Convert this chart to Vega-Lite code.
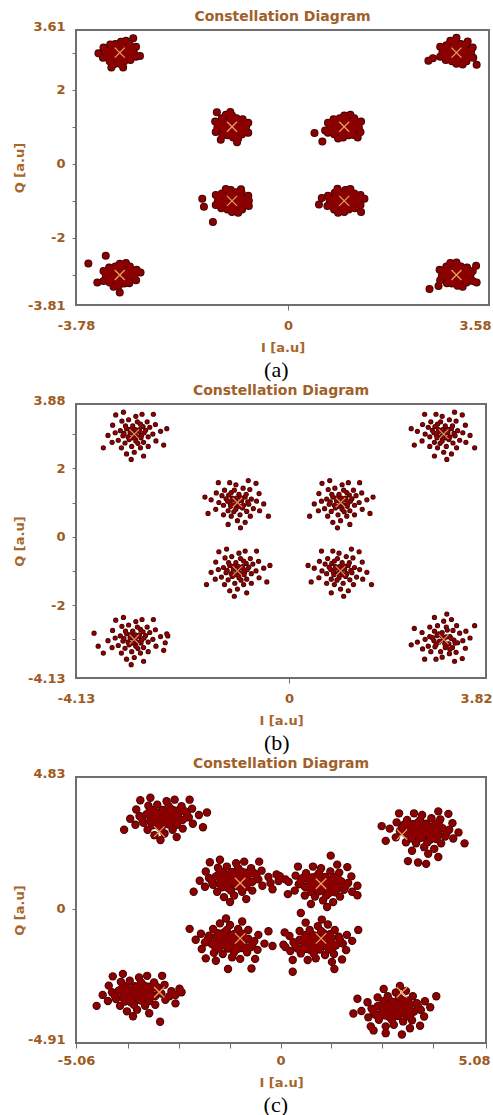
{
  "$schema": "https://vega.github.io/schema/vega-lite/v6.json",
  "background": "white",
  "padding": {"left": 12, "top": 9, "right": 0, "bottom": 0},
  "config": {
    "view": {"stroke": "#6e6e6e", "strokeWidth": 2},
    "font": "DejaVu Sans",
    "axis": {
      "labelFont": "DejaVu Sans", "labelFontWeight": "bold", "labelFontSize": 13, "labelColor": "#9E5A22",
      "titleFont": "DejaVu Sans", "titleFontWeight": "bold", "titleFontSize": 13, "titleColor": "#A8652C",
      "domain": false, "grid": false, "tickColor": "#6e6e6e", "tickSize": 4, "labelPadding": 7,
      "labelOverlap": false, "labelFlush": false
    },
    "axisX": {"tickSize": 5, "labelPadding": 9, "titlePadding": 9},
    "axisY": {"titlePadding": 1},
    "concat": {"spacing": 2}
  },
  "datasets": {
    "a": [
      {"i":-3,"q":3},{"i":-2.94,"q":3.05},{"i":-3.05,"q":3.08},{"i":-2.91,"q":2.94},{"i":-3.08,"q":2.95},{"i":-2.98,"q":2.89},{"i":-3.02,"q":3.14},{"i":-2.87,"q":3.02},{"i":-3.14,"q":3.01},{"i":-2.88,"q":3.13},{"i":-3.12,"q":3.14},{"i":-2.87,"q":2.86},{"i":-3.13,"q":2.86},{"i":-2.81,"q":2.95},{"i":-3.19,"q":3.05},{"i":-2.96,"q":3.2},{"i":-3.03,"q":2.8},{"i":-2.79,"q":3.11},{"i":-3.22,"q":2.9},{"i":-2.92,"q":2.77},{"i":-3.08,"q":3.23},{"i":-2.75,"q":3},{"i":-3.26,"q":3.02},{"i":-2.82,"q":3.2},{"i":-3.17,"q":3.22},{"i":-2.81,"q":2.8},{"i":-3.18,"q":2.77},{"i":-2.98,"q":3.29},{"i":-3,"q":2.7},{"i":-2.71,"q":2.89},{"i":-3.3,"q":2.86},{"i":-2.71,"q":3.16},{"i":-3.29,"q":3.14},{"i":-2.89,"q":3.32},{"i":-3.11,"q":2.68},{"i":-2.76,"q":3.39},{"i":-2.64,"q":2.91},{"i":-3.15,"q":2.6},{"i":-2.94,"q":2.6},{"i":-3.38,"q":2.98},
      {"i":3,"q":3},{"i":2.94,"q":3.05},{"i":3.05,"q":3.08},{"i":2.91,"q":2.94},{"i":3.08,"q":2.95},{"i":2.98,"q":2.89},{"i":3.02,"q":3.14},{"i":2.87,"q":3.02},{"i":3.14,"q":3.01},{"i":2.88,"q":3.13},{"i":3.12,"q":3.14},{"i":2.87,"q":2.86},{"i":3.13,"q":2.86},{"i":2.81,"q":2.95},{"i":3.19,"q":3.05},{"i":2.96,"q":3.2},{"i":3.03,"q":2.8},{"i":2.79,"q":3.11},{"i":3.22,"q":2.9},{"i":2.92,"q":2.77},{"i":3.08,"q":3.23},{"i":2.75,"q":3},{"i":3.26,"q":3.02},{"i":2.82,"q":3.2},{"i":3.17,"q":3.22},{"i":2.81,"q":2.8},{"i":3.18,"q":2.77},{"i":2.98,"q":3.29},{"i":3,"q":2.7},{"i":2.71,"q":2.89},{"i":3.3,"q":2.86},{"i":2.71,"q":3.16},{"i":3.29,"q":3.14},{"i":2.89,"q":3.32},{"i":3.11,"q":2.68},{"i":2.5,"q":2.78},{"i":2.58,"q":2.85},{"i":3.36,"q":2.67},{"i":3,"q":3.4},{"i":3.2,"q":3.3},
      {"i":-1,"q":1},{"i":-0.94,"q":0.95},{"i":-1.05,"q":0.92},{"i":-0.91,"q":1.06},{"i":-1.08,"q":1.05},{"i":-0.98,"q":1.11},{"i":-1.02,"q":0.86},{"i":-0.87,"q":0.98},{"i":-1.14,"q":0.99},{"i":-0.88,"q":0.87},{"i":-1.12,"q":0.86},{"i":-0.87,"q":1.14},{"i":-1.13,"q":1.14},{"i":-0.81,"q":1.05},{"i":-1.19,"q":0.95},{"i":-0.96,"q":0.8},{"i":-1.03,"q":1.2},{"i":-0.79,"q":0.89},{"i":-1.22,"q":1.1},{"i":-0.92,"q":1.23},{"i":-1.08,"q":0.77},{"i":-0.75,"q":1},{"i":-1.26,"q":0.98},{"i":-0.82,"q":0.8},{"i":-1.17,"q":0.78},{"i":-0.81,"q":1.2},{"i":-1.18,"q":1.23},{"i":-0.98,"q":0.71},{"i":-1,"q":1.3},{"i":-0.71,"q":1.11},{"i":-1.3,"q":1.14},{"i":-0.71,"q":0.84},{"i":-1.29,"q":0.86},{"i":-0.89,"q":0.68},{"i":-1.11,"q":1.32},{"i":-1.27,"q":1.39},{"i":-1.03,"q":1.4},{"i":-0.73,"q":0.85},{"i":-0.91,"q":0.58},{"i":-1.2,"q":0.65},
      {"i":1,"q":1},{"i":0.94,"q":0.95},{"i":1.05,"q":0.92},{"i":0.91,"q":1.06},{"i":1.08,"q":1.05},{"i":0.98,"q":1.11},{"i":1.02,"q":0.86},{"i":0.87,"q":0.98},{"i":1.14,"q":0.99},{"i":0.88,"q":0.87},{"i":1.12,"q":0.86},{"i":0.87,"q":1.14},{"i":1.13,"q":1.14},{"i":0.81,"q":1.05},{"i":1.19,"q":0.95},{"i":0.96,"q":0.8},{"i":1.03,"q":1.2},{"i":0.79,"q":0.89},{"i":1.22,"q":1.1},{"i":0.92,"q":1.23},{"i":1.08,"q":0.77},{"i":0.75,"q":1},{"i":1.26,"q":0.98},{"i":0.82,"q":0.8},{"i":1.17,"q":0.78},{"i":0.81,"q":1.2},{"i":1.18,"q":1.23},{"i":0.98,"q":0.71},{"i":1,"q":1.3},{"i":0.71,"q":1.11},{"i":1.3,"q":1.14},{"i":0.71,"q":0.84},{"i":1.29,"q":0.86},{"i":0.89,"q":0.68},{"i":1.11,"q":1.32},{"i":0.47,"q":0.83},{"i":0.61,"q":0.6},{"i":1.24,"q":1.12},{"i":1.24,"q":0.71},{"i":0.66,"q":0.9},
      {"i":-1,"q":-1},{"i":-1.06,"q":-0.95},{"i":-0.95,"q":-0.92},{"i":-1.09,"q":-1.06},{"i":-0.92,"q":-1.05},{"i":-1.02,"q":-1.11},{"i":-0.98,"q":-0.86},{"i":-1.13,"q":-0.98},{"i":-0.86,"q":-0.99},{"i":-1.12,"q":-0.87},{"i":-0.88,"q":-0.86},{"i":-1.13,"q":-1.14},{"i":-0.87,"q":-1.14},{"i":-1.19,"q":-1.05},{"i":-0.81,"q":-0.95},{"i":-1.04,"q":-0.8},{"i":-0.97,"q":-1.2},{"i":-1.21,"q":-0.89},{"i":-0.78,"q":-1.1},{"i":-1.08,"q":-1.23},{"i":-0.92,"q":-0.77},{"i":-1.25,"q":-1},{"i":-0.74,"q":-0.98},{"i":-1.18,"q":-0.8},{"i":-0.83,"q":-0.78},{"i":-1.19,"q":-1.2},{"i":-0.82,"q":-1.23},{"i":-1.02,"q":-0.71},{"i":-1,"q":-1.3},{"i":-1.29,"q":-1.11},{"i":-0.7,"q":-1.14},{"i":-1.29,"q":-0.84},{"i":-0.71,"q":-0.86},{"i":-1.11,"q":-0.68},{"i":-0.89,"q":-1.32},{"i":-1.53,"q":-0.94},{"i":-1.5,"q":-1.16},{"i":-1.34,"q":-1.57},{"i":-0.84,"q":-0.69},{"i":-0.7,"q":-1.0},
      {"i":1,"q":-1},{"i":1.06,"q":-0.95},{"i":0.95,"q":-0.92},{"i":1.09,"q":-1.06},{"i":0.92,"q":-1.05},{"i":1.02,"q":-1.11},{"i":0.98,"q":-0.86},{"i":1.13,"q":-0.98},{"i":0.86,"q":-0.99},{"i":1.12,"q":-0.87},{"i":0.88,"q":-0.86},{"i":1.13,"q":-1.14},{"i":0.87,"q":-1.14},{"i":1.19,"q":-1.05},{"i":0.81,"q":-0.95},{"i":1.04,"q":-0.8},{"i":0.97,"q":-1.2},{"i":1.21,"q":-0.89},{"i":0.78,"q":-1.1},{"i":1.08,"q":-1.23},{"i":0.92,"q":-0.77},{"i":1.25,"q":-1},{"i":0.74,"q":-0.98},{"i":1.18,"q":-0.8},{"i":0.83,"q":-0.78},{"i":1.19,"q":-1.2},{"i":0.82,"q":-1.23},{"i":1.02,"q":-0.71},{"i":1,"q":-1.3},{"i":1.29,"q":-1.11},{"i":0.7,"q":-1.14},{"i":1.29,"q":-0.84},{"i":0.71,"q":-0.86},{"i":1.11,"q":-0.68},{"i":0.89,"q":-1.32},{"i":0.88,"q":-0.67},{"i":1.36,"q":-0.94},{"i":1.3,"q":-1.3},{"i":0.55,"q":-1.1},{"i":0.6,"q":-0.92},
      {"i":-3,"q":-3},{"i":-3.06,"q":-3.05},{"i":-2.95,"q":-3.08},{"i":-3.09,"q":-2.94},{"i":-2.92,"q":-2.95},{"i":-3.02,"q":-2.89},{"i":-2.98,"q":-3.14},{"i":-3.13,"q":-3.02},{"i":-2.86,"q":-3.01},{"i":-3.12,"q":-3.13},{"i":-2.88,"q":-3.14},{"i":-3.13,"q":-2.86},{"i":-2.87,"q":-2.86},{"i":-3.19,"q":-2.95},{"i":-2.81,"q":-3.05},{"i":-3.04,"q":-3.2},{"i":-2.97,"q":-2.8},{"i":-3.21,"q":-3.11},{"i":-2.78,"q":-2.9},{"i":-3.08,"q":-2.77},{"i":-2.92,"q":-3.23},{"i":-3.25,"q":-3},{"i":-2.74,"q":-3.02},{"i":-3.18,"q":-3.2},{"i":-2.83,"q":-3.22},{"i":-3.19,"q":-2.8},{"i":-2.82,"q":-2.77},{"i":-3.02,"q":-3.29},{"i":-3,"q":-2.7},{"i":-3.29,"q":-2.89},{"i":-2.7,"q":-2.86},{"i":-3.29,"q":-3.16},{"i":-2.71,"q":-3.14},{"i":-3.11,"q":-3.32},{"i":-2.89,"q":-2.68},{"i":-3.56,"q":-2.69},{"i":-3.25,"q":-2.48},{"i":-2.63,"q":-2.93},{"i":-3.0,"q":-3.47},{"i":-3.4,"q":-3.2},
      {"i":3,"q":-3},{"i":3.06,"q":-3.05},{"i":2.95,"q":-3.08},{"i":3.09,"q":-2.94},{"i":2.92,"q":-2.95},{"i":3.02,"q":-2.89},{"i":2.98,"q":-3.14},{"i":3.13,"q":-3.02},{"i":2.86,"q":-3.01},{"i":3.12,"q":-3.13},{"i":2.88,"q":-3.14},{"i":3.13,"q":-2.86},{"i":2.87,"q":-2.86},{"i":3.19,"q":-2.95},{"i":2.81,"q":-3.05},{"i":3.04,"q":-3.2},{"i":2.97,"q":-2.8},{"i":3.21,"q":-3.11},{"i":2.78,"q":-2.9},{"i":3.08,"q":-2.77},{"i":2.92,"q":-3.23},{"i":3.25,"q":-3},{"i":2.74,"q":-3.02},{"i":3.18,"q":-3.2},{"i":2.83,"q":-3.22},{"i":3.19,"q":-2.8},{"i":2.82,"q":-2.77},{"i":3.02,"q":-3.29},{"i":3,"q":-2.7},{"i":3.29,"q":-2.89},{"i":2.7,"q":-2.86},{"i":3.29,"q":-3.16},{"i":2.71,"q":-3.14},{"i":3.11,"q":-3.32},{"i":2.89,"q":-2.68},{"i":2.52,"q":-3.38},{"i":3.36,"q":-3.2},{"i":3.0,"q":-2.66},{"i":3.35,"q":-2.75},{"i":2.68,"q":-3.3}
    ],
    "b": [
      {"i":-3,"q":3},{"i":-2.91,"q":3.08},{"i":-3.07,"q":3.14},{"i":-2.87,"q":2.89},{"i":-3.12,"q":2.92},{"i":-2.97,"q":2.8},{"i":-3.03,"q":3.24},{"i":-2.81,"q":3.04},{"i":-3.2,"q":3.02},{"i":-2.83,"q":3.22},{"i":-3.17,"q":3.24},{"i":-2.82,"q":2.76},{"i":-3.18,"q":2.74},{"i":-2.73,"q":2.92},{"i":-3.27,"q":3.1},{"i":-2.94,"q":3.36},{"i":-3.05,"q":2.64},{"i":-2.7,"q":3.2},{"i":-3.31,"q":2.82},{"i":-2.88,"q":2.6},{"i":-3.11,"q":3.42},{"i":-2.64,"q":3},{"i":-3.37,"q":3.04},{"i":-2.75,"q":3.36},{"i":-3.24,"q":3.38},{"i":-2.73,"q":2.64},{"i":-3.25,"q":2.6},{"i":-2.97,"q":3.52},{"i":-3,"q":2.47},{"i":-2.58,"q":2.8},{"i":-3.43,"q":2.76},{"i":-2.59,"q":3.28},{"i":-3.42,"q":3.26},{"i":-2.85,"q":3.58},{"i":-3.15,"q":2.42},{"i":-2.49,"q":3.08},{"i":-3.51,"q":2.96},{"i":-2.82,"q":2.36},{"i":-3.21,"q":3.64},{"i":-2.43,"q":2.68},{"i":-3.36,"q":3.56},{"i":-2.63,"q":3.58},{"i":-3.06,"q":2.26},{"i":-2.37,"q":3.16},{"i":-3.6,"q":2.6},{"i":-2.95,"q":2.93},{"i":-3.08,"q":3.05},{"i":-2.9,"q":3.13},{"i":-3.1,"q":2.84},{"i":-2.86,"q":2.97},{"i":-3.15,"q":3.16},{"i":-2.98,"q":3.13},{"i":-2.93,"q":2.73},{"i":-3.22,"q":2.95},{"i":-2.78,"q":3.11},{"i":-3.04,"q":2.89},{"i":-2.88,"q":3.29},
      {"i":3,"q":3},{"i":2.91,"q":3.08},{"i":3.07,"q":3.14},{"i":2.87,"q":2.89},{"i":3.12,"q":2.92},{"i":2.97,"q":2.8},{"i":3.03,"q":3.24},{"i":2.81,"q":3.04},{"i":3.2,"q":3.02},{"i":2.83,"q":3.22},{"i":3.17,"q":3.24},{"i":2.82,"q":2.76},{"i":3.18,"q":2.74},{"i":2.73,"q":2.92},{"i":3.27,"q":3.1},{"i":2.94,"q":3.36},{"i":3.05,"q":2.64},{"i":2.7,"q":3.2},{"i":3.31,"q":2.82},{"i":2.88,"q":2.6},{"i":3.11,"q":3.42},{"i":2.64,"q":3},{"i":3.37,"q":3.04},{"i":2.75,"q":3.36},{"i":3.24,"q":3.38},{"i":2.73,"q":2.64},{"i":3.25,"q":2.6},{"i":2.97,"q":3.52},{"i":3,"q":2.47},{"i":2.58,"q":2.8},{"i":3.43,"q":2.76},{"i":2.59,"q":3.28},{"i":3.42,"q":3.26},{"i":2.85,"q":3.58},{"i":3.15,"q":2.42},{"i":2.49,"q":3.08},{"i":3.51,"q":2.96},{"i":2.82,"q":2.36},{"i":3.21,"q":3.64},{"i":2.43,"q":2.68},{"i":3.36,"q":3.56},{"i":2.63,"q":3.58},{"i":3.06,"q":2.26},{"i":2.37,"q":3.16},{"i":3.6,"q":2.6},{"i":2.95,"q":2.93},{"i":3.08,"q":3.05},{"i":2.9,"q":3.13},{"i":3.1,"q":2.84},{"i":2.86,"q":2.97},{"i":3.15,"q":3.16},{"i":2.98,"q":3.13},{"i":2.93,"q":2.73},{"i":3.22,"q":2.95},{"i":2.78,"q":3.11},{"i":3.04,"q":2.89},{"i":2.88,"q":3.29},
      {"i":-1,"q":1},{"i":-1.09,"q":1.08},{"i":-0.93,"q":1.14},{"i":-1.13,"q":0.89},{"i":-0.88,"q":0.92},{"i":-1.03,"q":0.8},{"i":-0.97,"q":1.24},{"i":-1.19,"q":1.04},{"i":-0.8,"q":1.02},{"i":-1.17,"q":1.22},{"i":-0.83,"q":1.24},{"i":-1.18,"q":0.76},{"i":-0.82,"q":0.74},{"i":-1.27,"q":0.92},{"i":-0.73,"q":1.1},{"i":-1.06,"q":1.36},{"i":-0.95,"q":0.64},{"i":-1.3,"q":1.2},{"i":-0.69,"q":0.82},{"i":-1.12,"q":0.6},{"i":-0.89,"q":1.42},{"i":-1.36,"q":1},{"i":-0.63,"q":1.04},{"i":-1.25,"q":1.36},{"i":-0.76,"q":1.38},{"i":-1.27,"q":0.64},{"i":-0.75,"q":0.6},{"i":-1.03,"q":1.52},{"i":-1,"q":0.47},{"i":-1.42,"q":0.8},{"i":-0.57,"q":0.76},{"i":-1.41,"q":1.28},{"i":-0.58,"q":1.26},{"i":-1.15,"q":1.58},{"i":-0.85,"q":0.42},{"i":-1.51,"q":1.08},{"i":-0.49,"q":0.96},{"i":-1.18,"q":0.36},{"i":-0.79,"q":1.64},{"i":-1.57,"q":0.68},{"i":-0.64,"q":1.56},{"i":-1.37,"q":1.58},{"i":-0.94,"q":0.26},{"i":-1.63,"q":1.16},{"i":-0.4,"q":0.6},{"i":-1.05,"q":0.93},{"i":-0.92,"q":1.05},{"i":-1.1,"q":1.13},{"i":-0.9,"q":0.84},{"i":-1.14,"q":0.97},{"i":-0.85,"q":1.16},{"i":-1.02,"q":1.13},{"i":-1.07,"q":0.73},{"i":-0.78,"q":0.95},{"i":-1.22,"q":1.11},{"i":-0.96,"q":0.89},{"i":-1.12,"q":1.29},
      {"i":1,"q":1},{"i":1.09,"q":1.08},{"i":0.93,"q":1.14},{"i":1.13,"q":0.89},{"i":0.88,"q":0.92},{"i":1.03,"q":0.8},{"i":0.97,"q":1.24},{"i":1.19,"q":1.04},{"i":0.8,"q":1.02},{"i":1.17,"q":1.22},{"i":0.83,"q":1.24},{"i":1.18,"q":0.76},{"i":0.82,"q":0.74},{"i":1.27,"q":0.92},{"i":0.73,"q":1.1},{"i":1.06,"q":1.36},{"i":0.95,"q":0.64},{"i":1.3,"q":1.2},{"i":0.69,"q":0.82},{"i":1.12,"q":0.6},{"i":0.89,"q":1.42},{"i":1.36,"q":1},{"i":0.63,"q":1.04},{"i":1.25,"q":1.36},{"i":0.76,"q":1.38},{"i":1.27,"q":0.64},{"i":0.75,"q":0.6},{"i":1.03,"q":1.52},{"i":1,"q":0.47},{"i":1.42,"q":0.8},{"i":0.57,"q":0.76},{"i":1.41,"q":1.28},{"i":0.58,"q":1.26},{"i":1.15,"q":1.58},{"i":0.85,"q":0.42},{"i":1.51,"q":1.08},{"i":0.49,"q":0.96},{"i":1.18,"q":0.36},{"i":0.79,"q":1.64},{"i":1.57,"q":0.68},{"i":0.64,"q":1.56},{"i":1.37,"q":1.58},{"i":0.94,"q":0.26},{"i":1.63,"q":1.16},{"i":0.4,"q":0.6},{"i":1.05,"q":0.93},{"i":0.92,"q":1.05},{"i":1.1,"q":1.13},{"i":0.9,"q":0.84},{"i":1.14,"q":0.97},{"i":0.85,"q":1.16},{"i":1.02,"q":1.13},{"i":1.07,"q":0.73},{"i":0.78,"q":0.95},{"i":1.22,"q":1.11},{"i":0.96,"q":0.89},{"i":1.12,"q":1.29},
      {"i":-1,"q":-1},{"i":-0.91,"q":-0.92},{"i":-1.07,"q":-0.86},{"i":-0.87,"q":-1.11},{"i":-1.12,"q":-1.08},{"i":-0.97,"q":-1.2},{"i":-1.03,"q":-0.76},{"i":-0.81,"q":-0.96},{"i":-1.2,"q":-0.98},{"i":-0.83,"q":-0.78},{"i":-1.17,"q":-0.76},{"i":-0.82,"q":-1.24},{"i":-1.18,"q":-1.26},{"i":-0.73,"q":-1.08},{"i":-1.27,"q":-0.9},{"i":-0.94,"q":-0.64},{"i":-1.05,"q":-1.36},{"i":-0.7,"q":-0.8},{"i":-1.31,"q":-1.18},{"i":-0.88,"q":-1.4},{"i":-1.11,"q":-0.58},{"i":-0.64,"q":-1},{"i":-1.37,"q":-0.96},{"i":-0.75,"q":-0.64},{"i":-1.24,"q":-0.62},{"i":-0.73,"q":-1.36},{"i":-1.25,"q":-1.4},{"i":-0.97,"q":-0.48},{"i":-1,"q":-1.53},{"i":-0.58,"q":-1.2},{"i":-1.43,"q":-1.24},{"i":-0.59,"q":-0.72},{"i":-1.42,"q":-0.74},{"i":-0.85,"q":-0.42},{"i":-1.15,"q":-1.58},{"i":-0.49,"q":-0.92},{"i":-1.51,"q":-1.04},{"i":-0.82,"q":-1.64},{"i":-1.21,"q":-0.36},{"i":-0.43,"q":-1.32},{"i":-1.36,"q":-0.44},{"i":-0.63,"q":-0.42},{"i":-1.06,"q":-1.74},{"i":-0.37,"q":-0.84},{"i":-1.6,"q":-1.4},{"i":-0.95,"q":-1.07},{"i":-1.08,"q":-0.95},{"i":-0.9,"q":-0.87},{"i":-1.1,"q":-1.16},{"i":-0.86,"q":-1.03},{"i":-1.15,"q":-0.84},{"i":-0.98,"q":-0.87},{"i":-0.93,"q":-1.27},{"i":-1.22,"q":-1.05},{"i":-0.78,"q":-0.89},{"i":-1.04,"q":-1.11},{"i":-0.88,"q":-0.71},
      {"i":1,"q":-1},{"i":0.91,"q":-0.92},{"i":1.07,"q":-0.86},{"i":0.87,"q":-1.11},{"i":1.12,"q":-1.08},{"i":0.97,"q":-1.2},{"i":1.03,"q":-0.76},{"i":0.81,"q":-0.96},{"i":1.2,"q":-0.98},{"i":0.83,"q":-0.78},{"i":1.17,"q":-0.76},{"i":0.82,"q":-1.24},{"i":1.18,"q":-1.26},{"i":0.73,"q":-1.08},{"i":1.27,"q":-0.9},{"i":0.94,"q":-0.64},{"i":1.05,"q":-1.36},{"i":0.7,"q":-0.8},{"i":1.31,"q":-1.18},{"i":0.88,"q":-1.4},{"i":1.11,"q":-0.58},{"i":0.64,"q":-1},{"i":1.37,"q":-0.96},{"i":0.75,"q":-0.64},{"i":1.24,"q":-0.62},{"i":0.73,"q":-1.36},{"i":1.25,"q":-1.4},{"i":0.97,"q":-0.48},{"i":1,"q":-1.53},{"i":0.58,"q":-1.2},{"i":1.43,"q":-1.24},{"i":0.59,"q":-0.72},{"i":1.42,"q":-0.74},{"i":0.85,"q":-0.42},{"i":1.15,"q":-1.58},{"i":0.49,"q":-0.92},{"i":1.51,"q":-1.04},{"i":0.82,"q":-1.64},{"i":1.21,"q":-0.36},{"i":0.43,"q":-1.32},{"i":1.36,"q":-0.44},{"i":0.63,"q":-0.42},{"i":1.06,"q":-1.74},{"i":0.37,"q":-0.84},{"i":1.6,"q":-1.4},{"i":0.95,"q":-1.07},{"i":1.08,"q":-0.95},{"i":0.9,"q":-0.87},{"i":1.1,"q":-1.16},{"i":0.86,"q":-1.03},{"i":1.15,"q":-0.84},{"i":0.98,"q":-0.87},{"i":0.93,"q":-1.27},{"i":1.22,"q":-1.05},{"i":0.78,"q":-0.89},{"i":1.04,"q":-1.11},{"i":0.88,"q":-0.71},
      {"i":-3,"q":-3},{"i":-2.91,"q":-2.92},{"i":-3.07,"q":-2.86},{"i":-2.87,"q":-3.11},{"i":-3.12,"q":-3.08},{"i":-2.97,"q":-3.2},{"i":-3.03,"q":-2.76},{"i":-2.81,"q":-2.96},{"i":-3.2,"q":-2.98},{"i":-2.83,"q":-2.78},{"i":-3.17,"q":-2.76},{"i":-2.82,"q":-3.24},{"i":-3.18,"q":-3.26},{"i":-2.73,"q":-3.08},{"i":-3.27,"q":-2.9},{"i":-2.94,"q":-2.64},{"i":-3.05,"q":-3.36},{"i":-2.7,"q":-2.8},{"i":-3.31,"q":-3.18},{"i":-2.88,"q":-3.4},{"i":-3.11,"q":-2.58},{"i":-2.64,"q":-3},{"i":-3.37,"q":-2.96},{"i":-2.75,"q":-2.64},{"i":-3.24,"q":-2.62},{"i":-2.73,"q":-3.36},{"i":-3.25,"q":-3.4},{"i":-2.97,"q":-2.48},{"i":-3,"q":-3.53},{"i":-2.58,"q":-3.2},{"i":-3.43,"q":-3.24},{"i":-2.59,"q":-2.72},{"i":-3.42,"q":-2.74},{"i":-2.85,"q":-2.42},{"i":-3.15,"q":-3.58},{"i":-2.49,"q":-2.92},{"i":-3.51,"q":-3.04},{"i":-2.82,"q":-3.64},{"i":-3.21,"q":-2.36},{"i":-2.43,"q":-3.32},{"i":-3.36,"q":-2.44},{"i":-2.63,"q":-2.42},{"i":-3.06,"q":-3.74},{"i":-2.37,"q":-2.84},{"i":-3.6,"q":-3.4},{"i":-2.95,"q":-3.07},{"i":-3.08,"q":-2.95},{"i":-2.9,"q":-2.87},{"i":-3.1,"q":-3.16},{"i":-2.86,"q":-3.03},{"i":-3.15,"q":-2.84},{"i":-2.98,"q":-2.87},{"i":-2.93,"q":-3.27},{"i":-3.22,"q":-3.05},{"i":-2.78,"q":-2.89},{"i":-3.04,"q":-3.11},{"i":-2.88,"q":-2.71},{"i":-3.78,"q":-2.82},{"i":-3.7,"q":-3.2},{"i":-2.35,"q":-2.9},{"i":-2.4,"q":-3.1},
      {"i":3,"q":-3},{"i":2.91,"q":-3.08},{"i":3.07,"q":-3.14},{"i":2.87,"q":-2.89},{"i":3.12,"q":-2.92},{"i":2.97,"q":-2.8},{"i":3.03,"q":-3.24},{"i":2.81,"q":-3.04},{"i":3.2,"q":-3.02},{"i":2.83,"q":-3.22},{"i":3.17,"q":-3.24},{"i":2.82,"q":-2.76},{"i":3.18,"q":-2.74},{"i":2.73,"q":-2.92},{"i":3.27,"q":-3.1},{"i":2.94,"q":-3.36},{"i":3.05,"q":-2.64},{"i":2.7,"q":-3.2},{"i":3.31,"q":-2.82},{"i":2.88,"q":-2.6},{"i":3.11,"q":-3.42},{"i":2.64,"q":-3},{"i":3.37,"q":-3.04},{"i":2.75,"q":-3.36},{"i":3.24,"q":-3.38},{"i":2.73,"q":-2.64},{"i":3.25,"q":-2.6},{"i":2.97,"q":-3.52},{"i":3,"q":-2.47},{"i":2.58,"q":-2.8},{"i":3.43,"q":-2.76},{"i":2.59,"q":-3.28},{"i":3.42,"q":-3.26},{"i":2.85,"q":-3.58},{"i":3.15,"q":-2.42},{"i":2.49,"q":-3.08},{"i":3.51,"q":-2.96},{"i":2.82,"q":-2.36},{"i":3.21,"q":-3.64},{"i":2.43,"q":-2.68},{"i":3.36,"q":-3.56},{"i":2.63,"q":-3.58},{"i":3.06,"q":-2.26},{"i":2.37,"q":-3.16},{"i":3.6,"q":-2.6},{"i":3.05,"q":-2.93},{"i":2.92,"q":-3.05},{"i":3.1,"q":-3.13},{"i":2.9,"q":-2.84},{"i":3.14,"q":-2.97},{"i":2.85,"q":-3.16},{"i":3.02,"q":-3.13},{"i":3.07,"q":-2.73},{"i":2.78,"q":-2.95},{"i":3.22,"q":-3.11},{"i":2.96,"q":-2.89},{"i":3.12,"q":-3.29}
    ],
    "c": [
      {"i":-2.87,"q":3.35},{"i":-2.72,"q":3.44},{"i":-2.99,"q":3.51},{"i":-2.65,"q":3.22},{"i":-3.07,"q":3.26},{"i":-2.82,"q":3.12},{"i":-2.92,"q":3.62},{"i":-2.55,"q":3.4},{"i":-3.2,"q":3.37},{"i":-2.59,"q":3.6},{"i":-3.15,"q":3.62},{"i":-2.57,"q":3.08},{"i":-3.17,"q":3.06},{"i":-2.42,"q":3.26},{"i":-3.32,"q":3.46},{"i":-2.77,"q":3.76},{"i":-2.95,"q":2.94},{"i":-2.37,"q":3.58},{"i":-3.39,"q":3.15},{"i":-2.67,"q":2.9},{"i":-3.05,"q":3.82},{"i":-2.27,"q":3.35},{"i":-3.49,"q":3.4},{"i":-2.45,"q":3.76},{"i":-3.27,"q":3.78},{"i":-2.42,"q":2.94},{"i":-3.29,"q":2.9},{"i":-2.82,"q":3.94},{"i":-2.87,"q":2.76},{"i":-2.17,"q":3.12},{"i":-3.59,"q":3.08},{"i":-2.19,"q":3.67},{"i":-3.57,"q":3.64},{"i":-2.62,"q":4},{"i":-3.12,"q":2.7},{"i":-2.02,"q":3.44},{"i":-3.72,"q":3.3},{"i":-2.57,"q":2.63},{"i":-3.22,"q":4.07},{"i":-1.92,"q":2.99},{"i":-3.47,"q":3.98},{"i":-2.25,"q":4},{"i":-2.97,"q":2.52},{"i":-1.82,"q":3.53},{"i":-3.87,"q":2.9},{"i":-2.79,"q":3.28},{"i":-2.99,"q":3.4},{"i":-2.72,"q":3.48},{"i":-3.02,"q":3.19},{"i":-2.66,"q":3.32},{"i":-3.1,"q":3.51},{"i":-2.84,"q":3.48},{"i":-2.76,"q":3.09},{"i":-3.2,"q":3.3},{"i":-2.54,"q":3.45},{"i":-2.93,"q":3.25},{"i":-2.69,"q":3.64},{"i":-2.52,"q":3.23},{"i":-3.25,"q":3.53},{"i":-2.75,"q":3.68},{"i":-3.02,"q":3.03},{"i":-2.32,"q":3.47},{"i":-3.42,"q":3.27},{"i":-2.49,"q":3.57},{"i":-3.22,"q":3.2},
      {"i":3.55,"q":2.85},{"i":3.4,"q":2.94},{"i":3.67,"q":3.01},{"i":3.33,"q":2.72},{"i":3.75,"q":2.76},{"i":3.5,"q":2.62},{"i":3.6,"q":3.12},{"i":3.23,"q":2.9},{"i":3.88,"q":2.87},{"i":3.27,"q":3.1},{"i":3.83,"q":3.12},{"i":3.25,"q":2.58},{"i":3.85,"q":2.56},{"i":3.1,"q":2.76},{"i":4,"q":2.96},{"i":3.45,"q":3.26},{"i":3.63,"q":2.44},{"i":3.05,"q":3.08},{"i":4.07,"q":2.65},{"i":3.35,"q":2.4},{"i":3.73,"q":3.32},{"i":2.95,"q":2.85},{"i":4.17,"q":2.9},{"i":3.13,"q":3.26},{"i":3.95,"q":3.28},{"i":3.1,"q":2.44},{"i":3.97,"q":2.4},{"i":3.5,"q":3.44},{"i":3.55,"q":2.26},{"i":2.85,"q":2.62},{"i":4.27,"q":2.58},{"i":2.87,"q":3.17},{"i":4.25,"q":3.14},{"i":3.3,"q":3.5},{"i":3.8,"q":2.2},{"i":2.7,"q":2.94},{"i":4.4,"q":2.8},{"i":3.25,"q":2.13},{"i":3.9,"q":3.57},{"i":2.6,"q":2.49},{"i":4.15,"q":3.48},{"i":2.93,"q":3.5},{"i":3.65,"q":2.02},{"i":2.5,"q":3.03},{"i":4.55,"q":2.4},{"i":3.47,"q":2.78},{"i":3.67,"q":2.9},{"i":3.4,"q":2.98},{"i":3.7,"q":2.69},{"i":3.34,"q":2.82},{"i":3.78,"q":3.01},{"i":3.52,"q":2.98},{"i":3.44,"q":2.59},{"i":3.88,"q":2.8},{"i":3.22,"q":2.95},{"i":3.61,"q":2.75},{"i":3.37,"q":3.14},{"i":3.2,"q":2.73},{"i":3.93,"q":3.03},{"i":3.43,"q":3.18},{"i":3.7,"q":2.53},{"i":3,"q":2.97},{"i":4.1,"q":2.77},{"i":3.17,"q":3.07},{"i":3.9,"q":2.7},{"i":3.15,"q":1.75},{"i":3.4,"q":1.7},{"i":3.6,"q":1.65},{"i":3.9,"q":1.9},
      {"i":-1.15,"q":1.08},{"i":-1,"q":1.17},{"i":-1.27,"q":1.24},{"i":-0.93,"q":0.95},{"i":-1.35,"q":0.99},{"i":-1.1,"q":0.85},{"i":-1.2,"q":1.35},{"i":-0.83,"q":1.13},{"i":-1.48,"q":1.1},{"i":-0.87,"q":1.33},{"i":-1.43,"q":1.35},{"i":-0.85,"q":0.81},{"i":-1.45,"q":0.79},{"i":-0.7,"q":0.99},{"i":-1.6,"q":1.19},{"i":-1.05,"q":1.49},{"i":-1.23,"q":0.67},{"i":-0.65,"q":1.31},{"i":-1.67,"q":0.88},{"i":-0.95,"q":0.63},{"i":-1.33,"q":1.55},{"i":-0.55,"q":1.08},{"i":-1.77,"q":1.13},{"i":-0.73,"q":1.49},{"i":-1.55,"q":1.51},{"i":-0.7,"q":0.67},{"i":-1.57,"q":0.63},{"i":-1.1,"q":1.67},{"i":-1.15,"q":0.49},{"i":-0.45,"q":0.85},{"i":-1.87,"q":0.81},{"i":-0.47,"q":1.4},{"i":-1.85,"q":1.37},{"i":-0.9,"q":1.73},{"i":-1.4,"q":0.43},{"i":-0.3,"q":1.17},{"i":-2,"q":1.03},{"i":-0.85,"q":0.36},{"i":-1.5,"q":1.8},{"i":-0.2,"q":0.72},{"i":-1.75,"q":1.71},{"i":-0.53,"q":1.73},{"i":-1.25,"q":0.25},{"i":-0.1,"q":1.26},{"i":-2.15,"q":0.63},{"i":-1.07,"q":1.01},{"i":-1.27,"q":1.13},{"i":-1,"q":1.21},{"i":-1.3,"q":0.92},{"i":-0.94,"q":1.05},{"i":-1.38,"q":1.24},{"i":-1.12,"q":1.21},{"i":-1.04,"q":0.82},{"i":-1.48,"q":1.03},{"i":-0.82,"q":1.18},{"i":-1.21,"q":0.98},{"i":-0.97,"q":1.37},{"i":-0.8,"q":0.96},{"i":-1.53,"q":1.26},{"i":-1.03,"q":1.41},{"i":-1.3,"q":0.76},{"i":-0.6,"q":1.2},{"i":-1.7,"q":1},{"i":-0.77,"q":1.3},{"i":-1.5,"q":0.93},{"i":-0.02,"q":1.2},{"i":-0.05,"q":1.02},{"i":-0.25,"q":0.95},
      {"i":1.05,"q":0.9},{"i":0.9,"q":0.99},{"i":1.17,"q":1.06},{"i":0.83,"q":0.77},{"i":1.25,"q":0.81},{"i":1,"q":0.67},{"i":1.1,"q":1.17},{"i":0.73,"q":0.95},{"i":1.38,"q":0.92},{"i":0.77,"q":1.15},{"i":1.33,"q":1.17},{"i":0.75,"q":0.63},{"i":1.35,"q":0.61},{"i":0.6,"q":0.81},{"i":1.5,"q":1.01},{"i":0.95,"q":1.31},{"i":1.13,"q":0.49},{"i":0.55,"q":1.13},{"i":1.57,"q":0.7},{"i":0.85,"q":0.45},{"i":1.23,"q":1.37},{"i":0.45,"q":0.9},{"i":1.67,"q":0.95},{"i":0.63,"q":1.31},{"i":1.45,"q":1.33},{"i":0.6,"q":0.49},{"i":1.47,"q":0.45},{"i":1,"q":1.49},{"i":1.05,"q":0.31},{"i":0.35,"q":0.67},{"i":1.77,"q":0.63},{"i":0.37,"q":1.22},{"i":1.75,"q":1.19},{"i":0.8,"q":1.55},{"i":1.3,"q":0.25},{"i":0.2,"q":0.99},{"i":1.9,"q":0.85},{"i":0.75,"q":0.18},{"i":1.4,"q":1.62},{"i":0.18,"q":0.54},{"i":1.65,"q":1.53},{"i":0.43,"q":1.55},{"i":1.15,"q":0.07},{"i":0.12,"q":1.08},{"i":1.9,"q":0.5},{"i":0.97,"q":0.83},{"i":1.17,"q":0.95},{"i":0.9,"q":1.03},{"i":1.2,"q":0.74},{"i":0.84,"q":0.87},{"i":1.28,"q":1.06},{"i":1.02,"q":1.03},{"i":0.94,"q":0.64},{"i":1.38,"q":0.85},{"i":0.72,"q":1},{"i":1.11,"q":0.8},{"i":0.87,"q":1.19},{"i":0.7,"q":0.78},{"i":1.43,"q":1.08},{"i":0.93,"q":1.23},{"i":1.2,"q":0.58},{"i":0.5,"q":1.02},{"i":1.6,"q":0.82},{"i":0.67,"q":1.12},{"i":1.4,"q":0.75},{"i":1.24,"q":1.95},
      {"i":-1.25,"q":-1.18},{"i":-1.1,"q":-1.27},{"i":-1.37,"q":-1.34},{"i":-1.03,"q":-1.05},{"i":-1.45,"q":-1.09},{"i":-1.2,"q":-0.95},{"i":-1.3,"q":-1.45},{"i":-0.93,"q":-1.23},{"i":-1.58,"q":-1.2},{"i":-0.97,"q":-1.43},{"i":-1.53,"q":-1.45},{"i":-0.95,"q":-0.91},{"i":-1.55,"q":-0.89},{"i":-0.8,"q":-1.09},{"i":-1.7,"q":-1.29},{"i":-1.15,"q":-1.59},{"i":-1.33,"q":-0.77},{"i":-0.75,"q":-1.41},{"i":-1.77,"q":-0.98},{"i":-1.05,"q":-0.73},{"i":-1.43,"q":-1.65},{"i":-0.65,"q":-1.18},{"i":-1.87,"q":-1.23},{"i":-0.83,"q":-1.59},{"i":-1.65,"q":-1.61},{"i":-0.8,"q":-0.77},{"i":-1.67,"q":-0.73},{"i":-1.2,"q":-1.77},{"i":-1.25,"q":-0.59},{"i":-0.55,"q":-0.95},{"i":-1.97,"q":-0.91},{"i":-0.57,"q":-1.5},{"i":-1.95,"q":-1.47},{"i":-1,"q":-1.83},{"i":-1.5,"q":-0.53},{"i":-0.4,"q":-1.27},{"i":-2.1,"q":-1.13},{"i":-0.95,"q":-0.46},{"i":-1.6,"q":-1.9},{"i":-0.3,"q":-0.82},{"i":-1.85,"q":-1.81},{"i":-0.63,"q":-1.83},{"i":-1.35,"q":-0.35},{"i":-0.2,"q":-1.36},{"i":-2.25,"q":-0.73},{"i":-1.17,"q":-1.11},{"i":-1.37,"q":-1.23},{"i":-1.1,"q":-1.31},{"i":-1.4,"q":-1.02},{"i":-1.04,"q":-1.15},{"i":-1.48,"q":-1.34},{"i":-1.22,"q":-1.31},{"i":-1.14,"q":-0.92},{"i":-1.58,"q":-1.13},{"i":-0.92,"q":-1.28},{"i":-1.31,"q":-1.08},{"i":-1.07,"q":-1.47},{"i":-0.9,"q":-1.06},{"i":-1.63,"q":-1.36},{"i":-1.13,"q":-1.51},{"i":-1.4,"q":-0.86},{"i":-0.7,"q":-1.3},{"i":-1.8,"q":-1.1},{"i":-0.87,"q":-1.4},{"i":-1.6,"q":-1.03},{"i":-1.3,"q":-2.2},{"i":-0.72,"q":-2.18},
      {"i":0.92,"q":-1.22},{"i":0.77,"q":-1.31},{"i":1.04,"q":-1.38},{"i":0.7,"q":-1.09},{"i":1.12,"q":-1.13},{"i":0.87,"q":-0.99},{"i":0.97,"q":-1.49},{"i":0.6,"q":-1.27},{"i":1.25,"q":-1.24},{"i":0.64,"q":-1.47},{"i":1.2,"q":-1.49},{"i":0.62,"q":-0.95},{"i":1.22,"q":-0.93},{"i":0.47,"q":-1.13},{"i":1.37,"q":-1.33},{"i":0.82,"q":-1.63},{"i":1,"q":-0.81},{"i":0.42,"q":-1.45},{"i":1.44,"q":-1.02},{"i":0.72,"q":-0.77},{"i":1.1,"q":-1.69},{"i":0.32,"q":-1.22},{"i":1.54,"q":-1.27},{"i":0.5,"q":-1.63},{"i":1.32,"q":-1.65},{"i":0.47,"q":-0.81},{"i":1.34,"q":-0.77},{"i":0.87,"q":-1.81},{"i":0.92,"q":-0.63},{"i":0.22,"q":-0.99},{"i":1.64,"q":-0.95},{"i":0.24,"q":-1.54},{"i":1.62,"q":-1.51},{"i":0.67,"q":-1.87},{"i":1.17,"q":-0.57},{"i":0.07,"q":-1.31},{"i":1.77,"q":-1.17},{"i":0.62,"q":-0.5},{"i":1.27,"q":-1.94},{"i":0.1,"q":-0.86},{"i":1.52,"q":-1.85},{"i":0.3,"q":-1.87},{"i":1.02,"q":-0.39},{"i":0.12,"q":-1.4},{"i":1.92,"q":-0.77},{"i":0.84,"q":-1.15},{"i":1.04,"q":-1.27},{"i":0.77,"q":-1.35},{"i":1.07,"q":-1.06},{"i":0.71,"q":-1.19},{"i":1.15,"q":-1.38},{"i":0.89,"q":-1.35},{"i":0.81,"q":-0.96},{"i":1.25,"q":-1.17},{"i":0.59,"q":-1.32},{"i":0.98,"q":-1.12},{"i":0.74,"q":-1.51},{"i":0.57,"q":-1.1},{"i":1.3,"q":-1.4},{"i":0.8,"q":-1.55},{"i":1.07,"q":-0.9},{"i":0.37,"q":-1.34},{"i":1.47,"q":-1.14},{"i":0.54,"q":-1.44},{"i":1.27,"q":-1.07},{"i":0.5,"q":-0.15},{"i":0.3,"q":-2.3},{"i":1.33,"q":-2.2},
      {"i":-3.55,"q":-3.1},{"i":-3.4,"q":-3.01},{"i":-3.67,"q":-2.94},{"i":-3.33,"q":-3.23},{"i":-3.75,"q":-3.19},{"i":-3.5,"q":-3.33},{"i":-3.6,"q":-2.83},{"i":-3.23,"q":-3.05},{"i":-3.88,"q":-3.08},{"i":-3.27,"q":-2.85},{"i":-3.83,"q":-2.83},{"i":-3.25,"q":-3.37},{"i":-3.85,"q":-3.39},{"i":-3.1,"q":-3.19},{"i":-4,"q":-2.99},{"i":-3.45,"q":-2.69},{"i":-3.63,"q":-3.51},{"i":-3.05,"q":-2.87},{"i":-4.07,"q":-3.3},{"i":-3.35,"q":-3.55},{"i":-3.73,"q":-2.63},{"i":-2.95,"q":-3.1},{"i":-4.17,"q":-3.05},{"i":-3.13,"q":-2.69},{"i":-3.95,"q":-2.67},{"i":-3.1,"q":-3.51},{"i":-3.97,"q":-3.55},{"i":-3.5,"q":-2.51},{"i":-3.55,"q":-3.69},{"i":-2.85,"q":-3.33},{"i":-4.27,"q":-3.37},{"i":-2.87,"q":-2.78},{"i":-4.25,"q":-2.81},{"i":-3.3,"q":-2.45},{"i":-3.8,"q":-3.75},{"i":-2.7,"q":-3.01},{"i":-4.4,"q":-3.15},{"i":-3.25,"q":-3.82},{"i":-3.9,"q":-2.38},{"i":-2.6,"q":-3.46},{"i":-4.15,"q":-2.47},{"i":-2.93,"q":-2.45},{"i":-3.65,"q":-3.93},{"i":-2.5,"q":-2.92},{"i":-4.55,"q":-3.55},{"i":-3.47,"q":-3.17},{"i":-3.67,"q":-3.05},{"i":-3.4,"q":-2.97},{"i":-3.7,"q":-3.26},{"i":-3.34,"q":-3.13},{"i":-3.78,"q":-2.94},{"i":-3.52,"q":-2.97},{"i":-3.44,"q":-3.36},{"i":-3.88,"q":-3.15},{"i":-3.22,"q":-3},{"i":-3.61,"q":-3.2},{"i":-3.37,"q":-2.81},{"i":-3.2,"q":-3.22},{"i":-3.93,"q":-2.92},{"i":-3.43,"q":-2.77},{"i":-3.7,"q":-3.42},{"i":-3,"q":-2.98},{"i":-4.1,"q":-3.18},{"i":-3.17,"q":-2.88},{"i":-3.9,"q":-3.25},{"i":-2.98,"q":-4.13},{"i":-2.75,"q":-3.2},{"i":-2.6,"q":-3.15},{"i":-2.45,"q":-3.05},
      {"i":2.85,"q":-3.65},{"i":2.7,"q":-3.74},{"i":2.97,"q":-3.81},{"i":2.63,"q":-3.52},{"i":3.05,"q":-3.56},{"i":2.8,"q":-3.42},{"i":2.9,"q":-3.92},{"i":2.53,"q":-3.7},{"i":3.18,"q":-3.67},{"i":2.57,"q":-3.9},{"i":3.13,"q":-3.92},{"i":2.55,"q":-3.38},{"i":3.15,"q":-3.36},{"i":2.4,"q":-3.56},{"i":3.3,"q":-3.76},{"i":2.75,"q":-4.06},{"i":2.93,"q":-3.24},{"i":2.35,"q":-3.88},{"i":3.37,"q":-3.45},{"i":2.65,"q":-3.2},{"i":3.03,"q":-4.12},{"i":2.25,"q":-3.65},{"i":3.47,"q":-3.7},{"i":2.43,"q":-4.06},{"i":3.25,"q":-4.08},{"i":2.4,"q":-3.24},{"i":3.27,"q":-3.2},{"i":2.8,"q":-4.24},{"i":2.85,"q":-3.06},{"i":2.15,"q":-3.42},{"i":3.57,"q":-3.38},{"i":2.17,"q":-3.97},{"i":3.55,"q":-3.94},{"i":2.6,"q":-4.3},{"i":3.1,"q":-3},{"i":2,"q":-3.74},{"i":3.7,"q":-3.6},{"i":2.55,"q":-2.93},{"i":3.2,"q":-4.37},{"i":1.9,"q":-3.29},{"i":3.45,"q":-4.28},{"i":2.23,"q":-4.3},{"i":2.95,"q":-2.82},{"i":1.8,"q":-3.83},{"i":3.85,"q":-3.2},{"i":2.77,"q":-3.58},{"i":2.97,"q":-3.7},{"i":2.7,"q":-3.78},{"i":3,"q":-3.49},{"i":2.64,"q":-3.62},{"i":3.08,"q":-3.81},{"i":2.82,"q":-3.78},{"i":2.74,"q":-3.39},{"i":3.18,"q":-3.6},{"i":2.52,"q":-3.75},{"i":2.91,"q":-3.55},{"i":2.67,"q":-3.94},{"i":2.5,"q":-3.53},{"i":3.23,"q":-3.83},{"i":2.73,"q":-3.98},{"i":3,"q":-3.33},{"i":2.3,"q":-3.77},{"i":3.4,"q":-3.57},{"i":2.47,"q":-3.87},{"i":3.2,"q":-3.5},{"i":2.6,"q":-4.55},{"i":3.0,"q":-4.6},{"i":2.3,"q":-4.45}
    ],
    "ideal": [
      {"i":-3,"q":3},{"i":3,"q":3},{"i":-1,"q":1},{"i":1,"q":1},{"i":-1,"q":-1},{"i":1,"q":-1},{"i":-3,"q":-3},{"i":3,"q":-3}
    ],
    "refC": [
      {"i":-3,"q":2.83},{"i":3,"q":2.72},{"i":-1,"q":0.95},{"i":1,"q":0.92},{"i":-1,"q":-1.08},{"i":1,"q":-1.08},{"i":-3,"q":-3.05},{"i":3,"q":-3.05}
    ]
  },
  "vconcat": [
    {
      "title": {"text": "(a)", "orient": "bottom", "anchor": "middle", "dx": 24, "font": "Liberation Serif", "fontSize": 22, "fontWeight": "normal", "color": "#000000", "offset": 5},
      "vconcat": [
        {
          "title": {"text": "Constellation Diagram", "frame": "group", "anchor": "middle", "font": "DejaVu Sans", "fontSize": 14, "fontWeight": "bold", "color": "#A0602A", "offset": -4},
          "width": 413, "height": 275,
          "encoding": {
            "x": {"field": "i", "type": "quantitative", "scale": {"domain": [-3.78, 3.58], "nice": false, "zero": false},
                  "axis": {"title": "I [a.u]", "values": [-3.78, 0, 3.58], "labelExpr": "'' + datum.value",
                           "tickOpacity": {"condition": {"test": "datum.value == 0", "value": 1}, "value": 0},
                           "labelOffset": {"condition": {"test": "datum.value > 3", "value": -14}, "value": 0}}},
            "y": {"field": "q", "type": "quantitative", "scale": {"domain": [-3.81, 3.61], "nice": false, "zero": false},
                  "axis": {"title": "Q [a.u]", "values": [-3.81, -3, -2, -1, 0, 1, 2, 3, 3.61],
                           "labelExpr": "abs(datum.value) == 1 || abs(datum.value) == 3 ? '' : '' + datum.value",
                           "tickOpacity": {"condition": {"test": "abs(datum.value) > 3.5", "value": 0}, "value": 1},
                           "labelOffset": {"condition": {"test": "datum.value > 3.5", "value": -4}, "value": 0}}}
          },
          "layer": [
            {"data": {"name": "a"}, "mark": {"type": "point", "filled": true, "fill": "#3A0000", "strokeWidth": 0, "opacity": 1, "size": 64}},
            {"data": {"name": "a"}, "mark": {"type": "point", "filled": true, "fill": "#8B0000", "strokeWidth": 0, "opacity": 1, "size": 40}},
            {"data": {"name": "ideal"}, "mark": {"type": "point", "shape": "M-1,-1L1,1M-1,1L1,-1", "filled": false, "stroke": "#E3A062", "strokeWidth": 1.3, "opacity": 1, "size": 100}}
          ]
        }
      ]
    },
    {
      "title": {"text": "(b)", "orient": "bottom", "anchor": "middle", "dx": 24, "font": "Liberation Serif", "fontSize": 22, "fontWeight": "normal", "color": "#000000", "offset": 5},
      "vconcat": [
        {
          "title": {"text": "Constellation Diagram", "frame": "group", "anchor": "middle", "font": "DejaVu Sans", "fontSize": 14, "fontWeight": "bold", "color": "#A0602A", "offset": -4},
          "width": 410, "height": 274,
          "encoding": {
            "x": {"field": "i", "type": "quantitative", "scale": {"domain": [-4.13, 3.82], "nice": false, "zero": false},
                  "axis": {"title": "I [a.u]", "values": [-4.13, 0, 3.82], "labelExpr": "'' + datum.value",
                           "tickOpacity": {"condition": {"test": "datum.value == 0", "value": 1}, "value": 0},
                           "labelOffset": {"condition": {"test": "datum.value > 3", "value": -10}, "value": 0}}},
            "y": {"field": "q", "type": "quantitative", "scale": {"domain": [-4.13, 3.88], "nice": false, "zero": false},
                  "axis": {"title": "Q [a.u]", "values": [-4.13, -3, -2, -1, 0, 1, 2, 3, 3.88],
                           "labelExpr": "abs(datum.value) == 1 || abs(datum.value) == 3 ? '' : '' + datum.value",
                           "tickOpacity": {"condition": {"test": "abs(datum.value) > 3.5", "value": 0}, "value": 1},
                           "labelOffset": {"condition": {"test": "datum.value > 3.5", "value": -4}, "value": 0}}}
          },
          "layer": [
            {"data": {"name": "b"}, "mark": {"type": "point", "filled": true, "fill": "#3A0000", "strokeWidth": 0, "opacity": 1, "size": 27}},
            {"data": {"name": "b"}, "mark": {"type": "point", "filled": true, "fill": "#8B0000", "strokeWidth": 0, "opacity": 1, "size": 15}},
            {"data": {"name": "ideal"}, "mark": {"type": "point", "shape": "M-1,-1L1,1M-1,1L1,-1", "filled": false, "stroke": "#E3905A", "strokeWidth": 1.2, "opacity": 1, "size": 90}}
          ]
        }
      ]
    },
    {
      "title": {"text": "(c)", "orient": "bottom", "anchor": "middle", "dx": 24, "font": "Liberation Serif", "fontSize": 22, "fontWeight": "normal", "color": "#000000", "offset": 5},
      "vconcat": [
        {
          "title": {"text": "Constellation Diagram", "frame": "group", "anchor": "middle", "font": "DejaVu Sans", "fontSize": 14, "fontWeight": "bold", "color": "#A0602A", "offset": -4},
          "width": 410, "height": 266,
          "encoding": {
            "x": {"field": "i", "type": "quantitative", "scale": {"domain": [-5.06, 5.08], "nice": false, "zero": false},
                  "axis": {"title": "I [a.u]", "values": [-5.06, -3.77, -2.51, -1.25, 0, 1.25, 2.51, 3.76, 5.08],
                           "labelPadding": 6, "titlePadding": 9,
                           "labelExpr": "abs(datum.value) > 5 || datum.value == 0 ? '' + datum.value : ''",
                           "labelOffset": {"condition": {"test": "datum.value > 5", "value": -12}, "value": 0}}},
            "y": {"field": "q", "type": "quantitative", "scale": {"domain": [-4.91, 4.83], "nice": false, "zero": false},
                  "axis": {"title": "Q [a.u]", "values": [-4.91, 0, 4.83], "labelExpr": "'' + datum.value",
                           "tickOpacity": {"condition": {"test": "datum.value == 0", "value": 1}, "value": 0},
                           "labelOffset": {"condition": {"test": "abs(datum.value) > 4", "value": -4}, "value": 0}}}
          },
          "layer": [
            {"data": {"name": "c"}, "mark": {"type": "point", "filled": true, "fill": "#3A0000", "strokeWidth": 0, "opacity": 1, "size": 70}},
            {"data": {"name": "c"}, "mark": {"type": "point", "filled": true, "fill": "#8B0000", "strokeWidth": 0, "opacity": 1, "size": 46}},
            {"data": {"name": "refC"}, "mark": {"type": "point", "shape": "M-1,-1L1,1M-1,1L1,-1", "filled": false, "stroke": "#E3A062", "strokeWidth": 1.3, "opacity": 1, "size": 110}}
          ]
        }
      ]
    }
  ]
}
